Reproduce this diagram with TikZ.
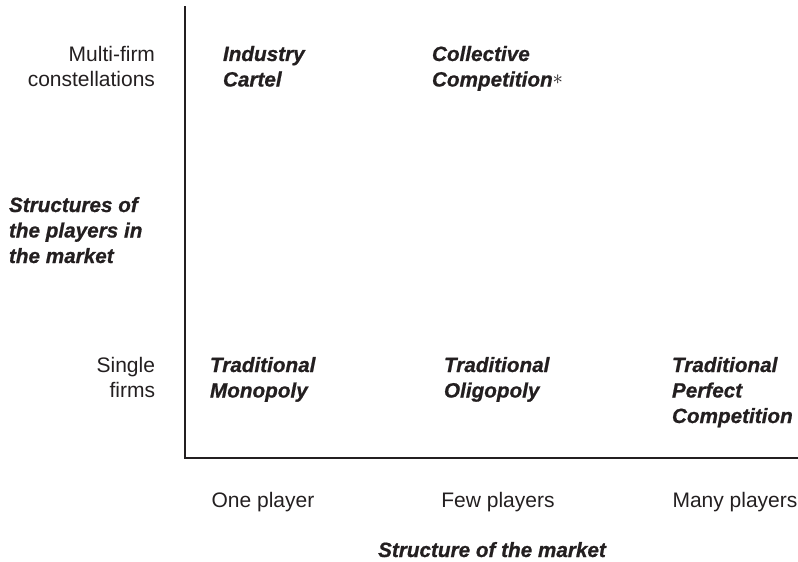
\documentclass[tikz,border=0pt]{standalone}
\usepackage{fontspec}
\setmainfont[BoldItalicFeatures={FakeBold=0.8}]{Liberation Sans}
\definecolor{ink}{RGB}{35,31,32}
\begin{document}
\begin{tikzpicture}[x=1pt,y=-1pt,
  every node/.style={inner sep=0pt,outer sep=0pt,text=ink,
    font=\fontsize{21}{25.5}\selectfont},
  cell/.style={align=left,anchor=north west,
    font=\fontsize{20.7}{25.5}\selectfont\bfseries\itshape},
  rowlabel/.style={align=right,anchor=north east},
  collabel/.style={anchor=base},
  axistitle/.style={font=\fontsize{20.7}{25.5}\selectfont\bfseries\itshape},
  axis/.style={draw=ink,line width=1.3pt}]
  \useasboundingbox (0,0) rectangle (798,562);

  % axes
  \coordinate (top) at (185,6);
  \coordinate (origin) at (185,458);
  \coordinate (right) at (798,458);
  \draw[axis] (top) -- (origin) -- (right);

  % vertical axis labels
  \node[rowlabel] (multi) at (155,46) {Multi-firm\\constellations};
  \node[rowlabel] (single) at (155,357) {Single\\firms};
  \node[axistitle,align=left,anchor=north west] (ytitle) at (9,197)
    {Structures of\\the players in\\the market};

  % cells
  \node[cell] (cartel) at (223,46) {Industry\\Cartel};
  \node[cell] (collective) at (432,46)
    {Collective\\Competition{\mdseries\upshape\raisebox{2pt}{$\ast$}}};
  \node[cell] (monopoly) at (210,357) {Traditional\\Monopoly};
  \node[cell] (oligopoly) at (444,357) {Traditional\\Oligopoly};
  \node[cell] (perfect) at (672,357) {Traditional\\Perfect\\Competition};

  % horizontal axis labels
  \node[collabel] (one) at (263,507) {One player};
  \node[collabel] (few) at (498,507) {Few players};
  \node[collabel] (many) at (735,507) {Many players};
  \node[axistitle,anchor=base] (xtitle) at (492,557) {Structure of the market};
\end{tikzpicture}
\end{document}
